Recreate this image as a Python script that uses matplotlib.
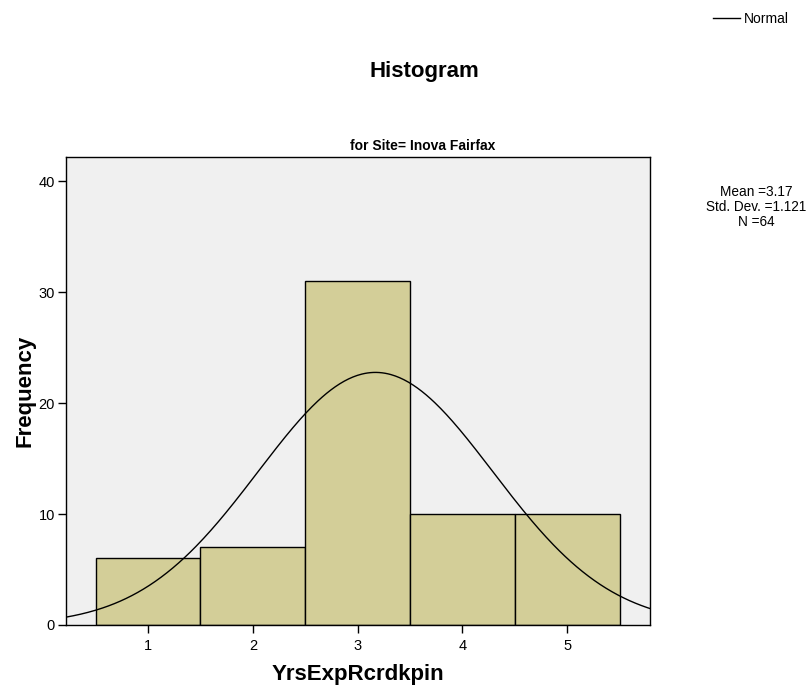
import numpy as np
import matplotlib
matplotlib.use("Agg")
import matplotlib.pyplot as plt

plt.rcParams['font.family'] = ['Liberation Sans', 'DejaVu Sans']

categories = [1, 2, 3, 4, 5]
frequencies = [6, 7, 31, 10, 10]
mean_val = 3.17
std_val = 1.121
n_val = 64
xticks = [1, 2, 3, 4, 5]
yticks = [0, 10, 20, 30, 40]

fig = plt.figure(figsize=(8.10, 6.91), dpi=100)
ax = fig.add_axes([66/810, 1-625/691, (650-66)/810, (625-157)/691])
ax.set_facecolor('#f0f0f0')

ax.bar(categories, frequencies, width=1.0, color='#d3ce98', edgecolor='black', linewidth=1.0, zorder=2)

xs = np.linspace(0.217, 5.79, 400)
ys = n_val * 1.0 / (std_val * np.sqrt(2*np.pi)) * np.exp(-0.5*((xs-mean_val)/std_val)**2)
ax.plot(xs, ys, color='black', linewidth=1.0, zorder=3)

ax.set_xlim(0.217, 5.79)
ax.set_ylim(0, 42.2)
ax.set_xticks(xticks)
ax.set_yticks(yticks)
ax.tick_params(axis='both', direction='out', length=6, width=1, labelsize=10.5, colors='black')
ax.tick_params(axis='x', pad=4)
ax.tick_params(axis='y', pad=2)
for s in ax.spines.values():
    s.set_linewidth(1.0)
    s.set_color('black')

ax.set_xlabel('YrsExpRcrdkpin', fontsize=16, fontweight='bold', labelpad=8)
ax.set_ylabel('Frequency', fontsize=16, fontweight='bold', labelpad=2)

fig.text(424/810, 1-72/691, 'Histogram', fontsize=16, fontweight='bold', ha='center', va='center')
fig.text(423/810, 1-146/691, 'for Site= Inova Fairfax', fontsize=10, fontweight='bold', ha='center', va='center')

fig.add_artist(plt.Line2D([713/810, 740/810], [1-18/691, 1-18/691], color='black', linewidth=1.0))
fig.text(744/810, 1-19/691, 'Normal', fontsize=10, ha='left', va='center')

fig.text(756/810, 1-207/691, 'Mean =3.17\nStd. Dev. =1.121\nN =64', fontsize=9.8,
         ha='center', va='center', linespacing=1.05, multialignment='center')

fig.savefig('out.png', dpi=100)
